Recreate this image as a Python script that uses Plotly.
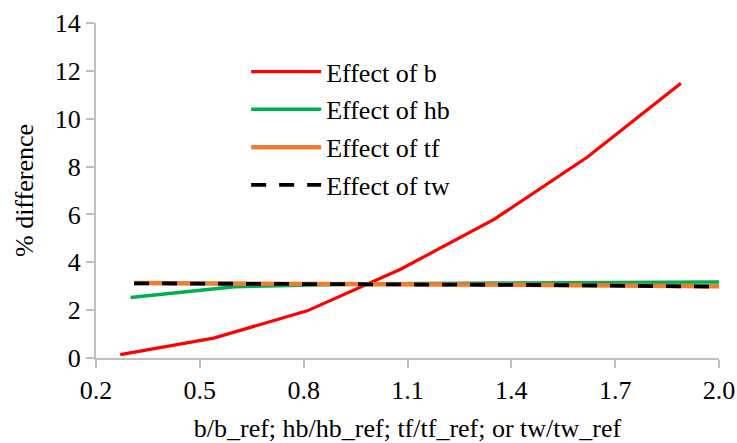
import plotly.graph_objects as go

# Effect of b
b_x = [0.27, 0.54, 0.81, 1.08, 1.35, 1.62, 1.89]
b_y = [0.14, 0.83, 1.97, 3.71, 5.79, 8.40, 11.48]
# Effect of hb
hb_x = [0.30, 0.60, 1.00, 1.50, 2.00]
hb_y = [2.53, 2.98, 3.10, 3.15, 3.18]
# Effect of tf
tf_x = [0.31, 0.62, 1.00, 1.50, 2.00]
tf_y = [3.13, 3.12, 3.10, 3.05, 3.00]
# Effect of tw
tw_x = [0.31, 0.62, 1.00, 1.50, 2.00]
tw_y = [3.12, 3.11, 3.10, 3.05, 2.98]

x_ticks = [0.2, 0.5, 0.8, 1.1, 1.4, 1.7, 2.0]
x_tick_labels = ["0.2", "0.5", "0.8", "1.1", "1.4", "1.7", "2.0"]
y_ticks = [0, 2, 4, 6, 8, 10, 12, 14]

FONT = "Liberation Serif, Times New Roman, serif"
TXT = dict(family=FONT, size=26, color="#000000")

fig = go.Figure()
fig.add_trace(go.Scatter(x=b_x, y=b_y, mode="lines", name="Effect of b",
                         line=dict(color="#FF0000", width=3.2), legendgroup="a"))
fig.add_trace(go.Scatter(x=hb_x, y=hb_y, mode="lines", name="Effect of hb",
                         line=dict(color="#00B050", width=3.5), legendgroup="b"))
fig.add_trace(go.Scatter(x=tf_x, y=tf_y, mode="lines", name="Effect of tf",
                         line=dict(color="#ED7D31", width=4.5), legendgroup="c"))
fig.add_trace(go.Scatter(x=tw_x, y=tw_y, mode="lines", name="Effect of tw",
                         line=dict(color="#000000", width=3.8, dash="15px,13px"), legendgroup="d"))

fig.update_layout(
    template="none",
    width=737, height=443,
    margin=dict(l=96, r=18, t=23, b=85, autoexpand=False),
    paper_bgcolor="white", plot_bgcolor="white",
    font=TXT,
    showlegend=True,
    legend=dict(x=0.241, y=0.925, xanchor="left", yanchor="top",
                bgcolor="rgba(0,0,0,0)", font=TXT, borderwidth=0,
                itemwidth=70, tracegroupgap=1),
    xaxis=dict(range=[0.2, 2.0], tickvals=x_ticks, ticktext=x_tick_labels,
               automargin=False,
               showgrid=False, zeroline=False, showline=True, linecolor="#BFBFBF",
               linewidth=2, ticks="outside", ticklen=8, tickcolor="#BFBFBF", tickwidth=2,
               title=dict(text="b/b_ref; hb/hb_ref; tf/tf_ref; or tw/tw_ref", font=TXT),
               tickfont=TXT),
    yaxis=dict(range=[0, 14], tickvals=y_ticks,
               automargin=False,
               showgrid=False, zeroline=False, showline=True, linecolor="#BFBFBF",
               linewidth=2, ticks="outside", ticklen=8, tickcolor="#BFBFBF", tickwidth=2,
               title=dict(text="% difference", font=TXT),
               tickfont=TXT),
)

post = (
    "document.body.style.margin='0';"
    "var s=document.createElement('style');"
    "s.textContent=\"svg text{font-family:'Liberation Serif','Times New Roman',serif !important;}\";"
    "document.head.appendChild(s);"
)

fig.write_html("out.html", post_script=post, config={"displayModeBar": False})
